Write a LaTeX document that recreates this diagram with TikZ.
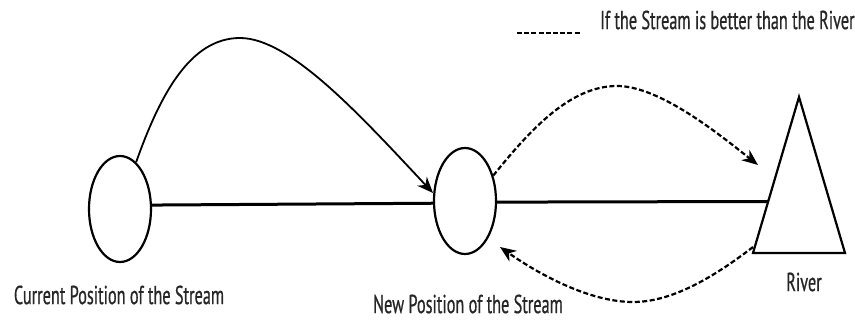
\documentclass[tikz,border=0pt]{standalone}
\usepackage{fontspec}
\setmainfont[FakeStretch=0.625,FakeBold=0.6]{PT Sans}
\usetikzlibrary{arrows.meta,shapes.geometric}
\tikzset{
  spot/.style={draw, line width=2.2pt, ellipse, minimum width=62pt, minimum height=106pt, inner sep=0pt},
  track/.style={line width=3pt},
  jump/.style={line width=1.8pt, -{Stealth[length=16pt,width=13pt,inset=5pt]}},
  tryjump/.style={line width=2.2pt, dash pattern=on 5pt off 2.5pt, -{Stealth[length=16pt,width=13pt,inset=5pt]}},
  lbl/.style={font=\fontsize{26}{29}\selectfont, text=black!85, inner sep=0pt}
}
\begin{document}
\begin{tikzpicture}[x=1pt,y=-1pt]
\useasboundingbox[fill=white] (0,0) rectangle (855,320);
% nodes
\node[spot] (c1) at (120,209) {};
\node[spot] (c2) at (465,201) {};
\coordinate (tA) at (799,97);
\coordinate (tL) at (753,253);
\coordinate (tR) at (845,253);
\draw[line width=2.2pt, line join=miter] (tA) -- (tR) -- (tL) -- cycle;
\coordinate (tE) at (768,201.5);
% main tracks
\draw[track] (c1.7) -- (c2.184);
\draw[track] (c2.-2) -- (tE);
% solid jump
\coordinate (p1) at (240,38);
\coordinate (e1) at (433,193);
\draw[jump] (c1.71) .. controls (160,95) and (190,38) .. (p1)
  .. controls (290,38) and (360,115) .. (e1);
% dashed to river
\coordinate (p2) at (617,86);
\coordinate (e2) at (758,165);
\draw[tryjump] (c2.42) .. controls (530,130) and (570,86) .. (p2)
  .. controls (660,86) and (720,135) .. (e2);
% dashed back
\coordinate (s3) at (753,247);
\coordinate (p3) at (633,302);
\coordinate (e3) at (500,247);
\draw[tryjump] (s3) .. controls (710,280) and (670,302) .. (p3)
  .. controls (590,302) and (540,275) .. (e3);
% legend
\coordinate (l1) at (517,33);
\coordinate (l2) at (580,33);
\draw[line width=2.4pt, dash pattern=on 5pt off 2.2pt] (l1) -- (l2);
\node[lbl, anchor=west] (leg) at (600,20) {If the Stream is better than the River};
% labels
\node[lbl] (t1) at (119,295) {Current Position of the Stream};
\node[lbl] (t2) at (468,304) {New Position of the Stream};
\node[lbl] (t3) at (804,282) {River};
\end{tikzpicture}
\end{document}
